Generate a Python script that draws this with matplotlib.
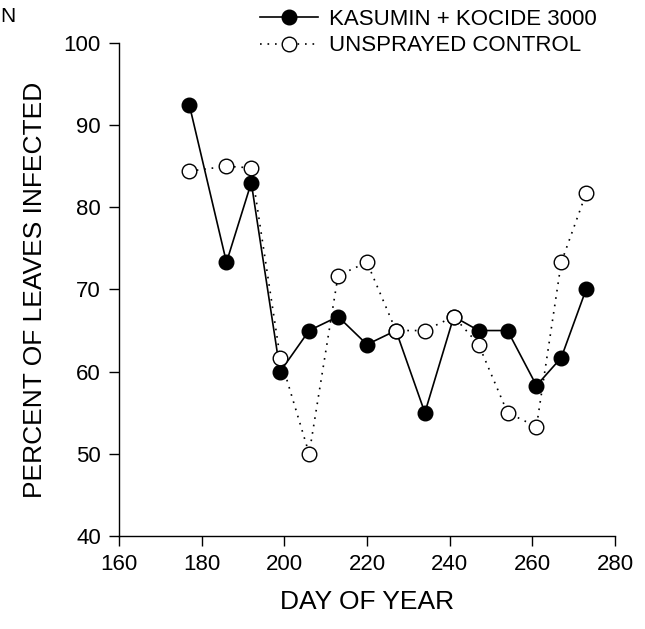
import matplotlib
matplotlib.use("Agg")
import matplotlib.pyplot as plt

plt.rcParams['font.family'] = ['Liberation Sans', 'DejaVu Sans']

# sampling days and percent infected per treatment
days = [177, 186, 192, 199, 206, 213, 220, 227, 234, 241, 247, 254, 261, 267, 273]
kasumin_kocide = [92.5, 73.3, 83.0, 60.0, 65.0, 66.7, 63.3, 65.0, 55.0, 66.7, 65.0, 65.0, 58.3, 61.7, 70.0]
unsprayed = [84.4, 85.0, 84.8, 61.7, 50.0, 71.7, 73.3, 65.0, 65.0, 66.7, 63.3, 55.0, 53.3, 73.3, 81.7]

x_ticks = [160, 180, 200, 220, 240, 260, 280]
y_ticks = [40, 50, 60, 70, 80, 90, 100]

fig = plt.figure(figsize=(6.45, 6.29), dpi=100)
ax = fig.add_axes([0.1845, 0.148, 0.769, 0.7836])

ax.plot(days, unsprayed, color='black', linestyle=(0, (1, 3.5)), linewidth=1.2,
        marker='o', markersize=10.5, markerfacecolor='white', markeredgecolor='black',
        markeredgewidth=1.0, label='UNSPRAYED CONTROL', zorder=3)
ax.plot(days, kasumin_kocide, color='black', linestyle='-', linewidth=1.2,
        marker='o', markersize=10.5, markerfacecolor='black', markeredgecolor='black',
        label='KASUMIN + KOCIDE 3000', zorder=2)

ax.set_xlim(160, 280)
ax.set_ylim(40, 100)
ax.set_xticks(x_ticks)
ax.set_yticks(y_ticks)
ax.tick_params(direction='out', length=7, width=1, labelsize=16, pad=6)
for side in ('top', 'right'):
    ax.spines[side].set_visible(False)
for side in ('left', 'bottom'):
    ax.spines[side].set_linewidth(1)

ax.set_xlabel('DAY OF YEAR', fontsize=19, labelpad=11)
ax.set_ylabel('PERCENT OF LEAVES INFECTED', fontsize=19, labelpad=12)

handles, labels = ax.get_legend_handles_labels()
fig.legend(handles[::-1], labels[::-1], loc='upper left', bbox_to_anchor=(0.39, 1.0),
           frameon=False, fontsize=16, handlelength=2.6, handletextpad=0.5,
           labelspacing=0.25, borderaxespad=0)

# panel letter at the top-left corner
fig.text(0.0, 0.973, 'N', fontsize=15, ha='left', va='center')

fig.savefig('out.png', dpi=100)
